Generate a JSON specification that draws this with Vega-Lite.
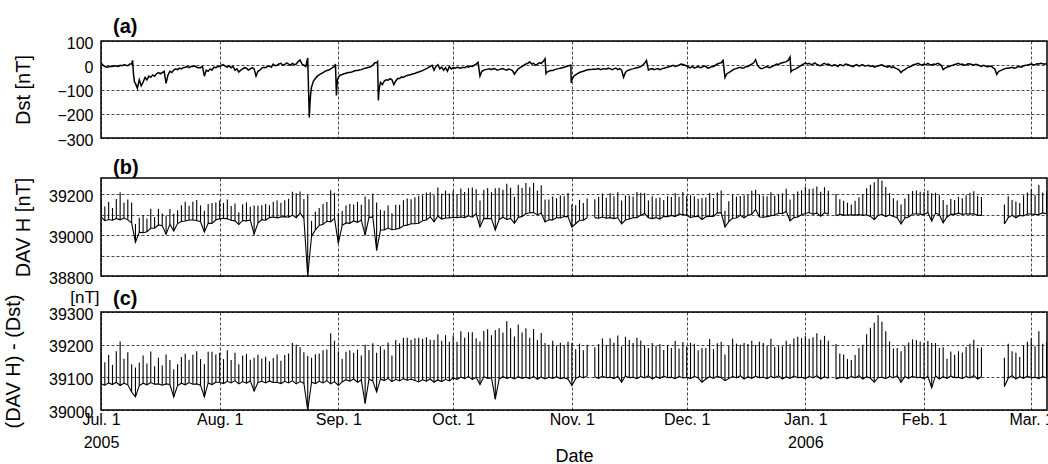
{
"$schema":"https://vega.github.io/schema/vega-lite/v6.json",
"background":"white",
"padding":{"left":2,"top":16,"right":2,"bottom":0},
"config":{
"font":"Liberation Sans",
"view":{"stroke":"black","strokeWidth":1.5},
"axis":{"labelFont":"Liberation Sans","labelFontSize":16,"labelColor":"black","titleFont":"Liberation Sans","titleFontSize":20,"titleFontWeight":"normal","titleColor":"black","gridColor":"black","gridDash":[3,2],"gridWidth":0.8,"gridOpacity":0.9,"domain":false,"ticks":false,"tickSize":0,"labelPadding":8},
"axisY":{"labelOffset":2},
"title":{"font":"Liberation Sans","fontSize":20,"fontWeight":"bold","anchor":"start","frame":"group","color":"black","dx":12}
},
"datasets":{
"dst":[
{"t":"2005070100","v":10},{"t":"2005070112","v":0},{"t":"2005070200","v":-5},{"t":"2005070212","v":-8},{"t":"2005070300","v":-6},{"t":"2005070312","v":-4},{"t":"2005070400","v":-5},{"t":"2005070412","v":-2},{"t":"2005070500","v":-3},{"t":"2005070512","v":-5},{"t":"2005070600","v":0},{"t":"2005070612","v":-2},{"t":"2005070700","v":2},{"t":"2005070712","v":0},{"t":"2005070800","v":-2},{"t":"2005070812","v":5},{"t":"2005070900","v":5},{"t":"2005070906","v":20},{"t":"2005070912","v":-40},{"t":"2005070918","v":-70},{"t":"2005071000","v":-75},{"t":"2005071012","v":-95},{"t":"2005071100","v":-60},{"t":"2005071112","v":-85},{"t":"2005071200","v":-70},{"t":"2005071212","v":-50},{"t":"2005071300","v":-60},{"t":"2005071312","v":-45},{"t":"2005071400","v":-50},{"t":"2005071412","v":-40},{"t":"2005071500","v":-45},{"t":"2005071512","v":-35},{"t":"2005071600","v":-30},{"t":"2005071612","v":-35},{"t":"2005071700","v":-30},{"t":"2005071712","v":-25},{"t":"2005071718","v":-50},{"t":"2005071800","v":-75},{"t":"2005071812","v":-40},{"t":"2005071900","v":-25},{"t":"2005071912","v":-30},{"t":"2005072000","v":-20},{"t":"2005072012","v":-15},{"t":"2005072100","v":-18},{"t":"2005072112","v":-12},{"t":"2005072200","v":-15},{"t":"2005072212","v":-10},{"t":"2005072300","v":-8},{"t":"2005072312","v":-5},{"t":"2005072400","v":-10},{"t":"2005072412","v":-5},{"t":"2005072500","v":-5},{"t":"2005072512","v":-3},{"t":"2005072600","v":-8},{"t":"2005072612","v":-10},{"t":"2005072700","v":-10},{"t":"2005072712","v":-5},{"t":"2005072800","v":-45},{"t":"2005072812","v":-20},{"t":"2005072900","v":-25},{"t":"2005072912","v":-15},{"t":"2005073000","v":-20},{"t":"2005073012","v":-8},{"t":"2005073100","v":-10},{"t":"2005073112","v":-5},
{"t":"2005080100","v":-5},{"t":"2005080112","v":0},{"t":"2005080200","v":2},{"t":"2005080212","v":-5},{"t":"2005080300","v":-8},{"t":"2005080312","v":-2},{"t":"2005080400","v":-10},{"t":"2005080412","v":-5},{"t":"2005080500","v":-20},{"t":"2005080512","v":-15},{"t":"2005080600","v":-28},{"t":"2005080612","v":-20},{"t":"2005080700","v":-15},{"t":"2005080712","v":-10},{"t":"2005080800","v":-12},{"t":"2005080812","v":-20},{"t":"2005080900","v":-15},{"t":"2005080912","v":-10},{"t":"2005081000","v":-15},{"t":"2005081012","v":-45},{"t":"2005081100","v":-25},{"t":"2005081112","v":-20},{"t":"2005081200","v":-12},{"t":"2005081212","v":-8},{"t":"2005081300","v":-10},{"t":"2005081312","v":-5},{"t":"2005081400","v":-3},{"t":"2005081412","v":-8},{"t":"2005081500","v":5},{"t":"2005081512","v":-2},{"t":"2005081600","v":0},{"t":"2005081612","v":5},{"t":"2005081700","v":8},{"t":"2005081712","v":0},{"t":"2005081800","v":3},{"t":"2005081812","v":10},{"t":"2005081900","v":5},{"t":"2005081912","v":0},{"t":"2005082000","v":8},{"t":"2005082012","v":2},{"t":"2005082100","v":5},{"t":"2005082112","v":15},{"t":"2005082200","v":22},{"t":"2005082212","v":5},{"t":"2005082300","v":0},{"t":"2005082312","v":-5},{"t":"2005082400","v":30},{"t":"2005082406","v":-120},{"t":"2005082410","v":-215},{"t":"2005082414","v":-160},{"t":"2005082418","v":-120},{"t":"2005082500","v":-90},{"t":"2005082512","v":-65},{"t":"2005082600","v":-55},{"t":"2005082612","v":-45},{"t":"2005082700","v":-40},{"t":"2005082712","v":-35},{"t":"2005082800","v":-30},{"t":"2005082812","v":-25},{"t":"2005082900","v":-22},{"t":"2005082912","v":-20},{"t":"2005083000","v":-15},{"t":"2005083012","v":-10},{"t":"2005083100","v":-5},{"t":"2005083106","v":5},{"t":"2005083112","v":-125},{"t":"2005083118","v":-60},
{"t":"2005090100","v":-50},{"t":"2005090112","v":-40},{"t":"2005090200","v":-38},{"t":"2005090212","v":-35},{"t":"2005090300","v":-33},{"t":"2005090312","v":-30},{"t":"2005090400","v":-30},{"t":"2005090412","v":-28},{"t":"2005090500","v":-25},{"t":"2005090512","v":-22},{"t":"2005090600","v":-22},{"t":"2005090612","v":-20},{"t":"2005090700","v":-18},{"t":"2005090712","v":-15},{"t":"2005090800","v":-12},{"t":"2005090812","v":-10},{"t":"2005090900","v":-8},{"t":"2005090912","v":-5},{"t":"2005091000","v":0},{"t":"2005091012","v":10},{"t":"2005091100","v":10},{"t":"2005091106","v":15},{"t":"2005091111","v":-145},{"t":"2005091114","v":-110},{"t":"2005091118","v":-90},{"t":"2005091200","v":-70},{"t":"2005091212","v":-80},{"t":"2005091300","v":-65},{"t":"2005091312","v":-60},{"t":"2005091400","v":-62},{"t":"2005091412","v":-55},{"t":"2005091500","v":-60},{"t":"2005091512","v":-80},{"t":"2005091600","v":-65},{"t":"2005091612","v":-55},{"t":"2005091700","v":-55},{"t":"2005091712","v":-48},{"t":"2005091800","v":-50},{"t":"2005091812","v":-45},{"t":"2005091900","v":-42},{"t":"2005091912","v":-40},{"t":"2005092000","v":-38},{"t":"2005092012","v":-35},{"t":"2005092100","v":-34},{"t":"2005092112","v":-30},{"t":"2005092200","v":-28},{"t":"2005092212","v":-25},{"t":"2005092300","v":-22},{"t":"2005092312","v":-18},{"t":"2005092400","v":-14},{"t":"2005092412","v":-10},{"t":"2005092500","v":-5},{"t":"2005092512","v":0},{"t":"2005092600","v":-20},{"t":"2005092612","v":-5},{"t":"2005092700","v":2},{"t":"2005092712","v":-15},{"t":"2005092800","v":-8},{"t":"2005092812","v":-20},{"t":"2005092900","v":-10},{"t":"2005092912","v":-25},{"t":"2005093000","v":-5},{"t":"2005093012","v":-15},
{"t":"2005100100","v":-10},{"t":"2005100112","v":-12},{"t":"2005100200","v":-8},{"t":"2005100212","v":-10},{"t":"2005100300","v":-12},{"t":"2005100312","v":-8},{"t":"2005100400","v":-10},{"t":"2005100412","v":-5},{"t":"2005100500","v":-8},{"t":"2005100512","v":-3},{"t":"2005100600","v":-5},{"t":"2005100612","v":0},{"t":"2005100700","v":5},{"t":"2005100712","v":12},{"t":"2005100800","v":-45},{"t":"2005100812","v":-25},{"t":"2005100900","v":-20},{"t":"2005100912","v":-18},{"t":"2005101000","v":-16},{"t":"2005101012","v":-15},{"t":"2005101100","v":-18},{"t":"2005101112","v":-14},{"t":"2005101200","v":-15},{"t":"2005101212","v":-20},{"t":"2005101300","v":-18},{"t":"2005101312","v":-15},{"t":"2005101400","v":-14},{"t":"2005101412","v":-18},{"t":"2005101500","v":-20},{"t":"2005101512","v":-16},{"t":"2005101600","v":-18},{"t":"2005101612","v":-22},{"t":"2005101700","v":-37},{"t":"2005101712","v":-25},{"t":"2005101800","v":-15},{"t":"2005101812","v":-10},{"t":"2005101900","v":-5},{"t":"2005101912","v":0},{"t":"2005102000","v":5},{"t":"2005102012","v":8},{"t":"2005102100","v":14},{"t":"2005102112","v":5},{"t":"2005102200","v":8},{"t":"2005102212","v":0},{"t":"2005102300","v":5},{"t":"2005102312","v":10},{"t":"2005102400","v":8},{"t":"2005102412","v":15},{"t":"2005102500","v":27},{"t":"2005102506","v":-34},{"t":"2005102512","v":-28},{"t":"2005102600","v":-25},{"t":"2005102612","v":-22},{"t":"2005102700","v":-22},{"t":"2005102712","v":-18},{"t":"2005102800","v":-16},{"t":"2005102812","v":-14},{"t":"2005102900","v":-12},{"t":"2005102912","v":-10},{"t":"2005103000","v":-8},{"t":"2005103012","v":-5},{"t":"2005103100","v":-3},{"t":"2005103112","v":0},{"t":"2005103118","v":0},{"t":"2005103120","v":-73},
{"t":"2005110100","v":-60},{"t":"2005110112","v":-45},{"t":"2005110200","v":-40},{"t":"2005110212","v":-35},{"t":"2005110300","v":-30},{"t":"2005110312","v":-27},{"t":"2005110400","v":-25},{"t":"2005110412","v":-22},{"t":"2005110500","v":-20},{"t":"2005110512","v":-18},{"t":"2005110600","v":-18},{"t":"2005110612","v":-16},{"t":"2005110700","v":-16},{"t":"2005110712","v":-15},{"t":"2005110800","v":-14},{"t":"2005110812","v":-18},{"t":"2005110900","v":-15},{"t":"2005110912","v":-14},{"t":"2005111000","v":-16},{"t":"2005111012","v":-12},{"t":"2005111100","v":-14},{"t":"2005111112","v":-18},{"t":"2005111200","v":-15},{"t":"2005111212","v":-12},{"t":"2005111300","v":-18},{"t":"2005111312","v":-14},{"t":"2005111400","v":-20},{"t":"2005111412","v":-50},{"t":"2005111500","v":-30},{"t":"2005111512","v":-22},{"t":"2005111600","v":-20},{"t":"2005111612","v":-16},{"t":"2005111700","v":-15},{"t":"2005111712","v":-12},{"t":"2005111800","v":-10},{"t":"2005111812","v":-8},{"t":"2005111900","v":-5},{"t":"2005111912","v":0},{"t":"2005112000","v":8},{"t":"2005112012","v":20},{"t":"2005112100","v":-20},{"t":"2005112112","v":-15},{"t":"2005112200","v":-14},{"t":"2005112212","v":-18},{"t":"2005112300","v":-16},{"t":"2005112312","v":-14},{"t":"2005112400","v":-18},{"t":"2005112412","v":-15},{"t":"2005112500","v":-12},{"t":"2005112512","v":-10},{"t":"2005112600","v":-8},{"t":"2005112612","v":-5},{"t":"2005112700","v":-3},{"t":"2005112712","v":0},{"t":"2005112800","v":-5},{"t":"2005112812","v":-2},{"t":"2005112900","v":0},{"t":"2005112912","v":5},{"t":"2005113000","v":3},{"t":"2005113012","v":0},
{"t":"2005120100","v":-3},{"t":"2005120112","v":-8},{"t":"2005120200","v":-10},{"t":"2005120212","v":-5},{"t":"2005120300","v":-12},{"t":"2005120312","v":-8},{"t":"2005120400","v":-5},{"t":"2005120412","v":-10},{"t":"2005120500","v":-8},{"t":"2005120512","v":-3},{"t":"2005120600","v":-5},{"t":"2005120612","v":-12},{"t":"2005120700","v":-10},{"t":"2005120712","v":-6},{"t":"2005120800","v":-5},{"t":"2005120812","v":0},{"t":"2005120900","v":5},{"t":"2005120912","v":8},{"t":"2005121000","v":10},{"t":"2005121012","v":20},{"t":"2005121100","v":-50},{"t":"2005121112","v":-35},{"t":"2005121200","v":-30},{"t":"2005121212","v":-25},{"t":"2005121300","v":-20},{"t":"2005121312","v":-15},{"t":"2005121400","v":-14},{"t":"2005121412","v":-10},{"t":"2005121500","v":-8},{"t":"2005121512","v":-12},{"t":"2005121600","v":-10},{"t":"2005121612","v":-6},{"t":"2005121700","v":-5},{"t":"2005121712","v":0},{"t":"2005121800","v":5},{"t":"2005121812","v":10},{"t":"2005121900","v":23},{"t":"2005121912","v":0},{"t":"2005122000","v":-10},{"t":"2005122012","v":-14},{"t":"2005122100","v":-12},{"t":"2005122112","v":-8},{"t":"2005122200","v":-5},{"t":"2005122212","v":-10},{"t":"2005122300","v":-8},{"t":"2005122312","v":-3},{"t":"2005122400","v":0},{"t":"2005122412","v":5},{"t":"2005122500","v":3},{"t":"2005122512","v":8},{"t":"2005122600","v":10},{"t":"2005122612","v":12},{"t":"2005122700","v":15},{"t":"2005122712","v":20},{"t":"2005122800","v":34},{"t":"2005122806","v":-27},{"t":"2005122812","v":-22},{"t":"2005122900","v":-18},{"t":"2005122912","v":-15},{"t":"2005123000","v":-10},{"t":"2005123012","v":-5},{"t":"2005123100","v":0},{"t":"2005123112","v":5},
{"t":"2006010100","v":10},{"t":"2006010112","v":5},{"t":"2006010200","v":8},{"t":"2006010212","v":2},{"t":"2006010300","v":5},{"t":"2006010312","v":10},{"t":"2006010400","v":3},{"t":"2006010412","v":0},{"t":"2006010500","v":-2},{"t":"2006010512","v":5},{"t":"2006010600","v":8},{"t":"2006010612","v":3},{"t":"2006010700","v":5},{"t":"2006010712","v":0},{"t":"2006010800","v":-3},{"t":"2006010812","v":2},{"t":"2006010900","v":0},{"t":"2006010912","v":-5},{"t":"2006011000","v":3},{"t":"2006011012","v":0},{"t":"2006011100","v":-2},{"t":"2006011112","v":5},{"t":"2006011200","v":3},{"t":"2006011212","v":0},{"t":"2006011300","v":-3},{"t":"2006011312","v":-6},{"t":"2006011400","v":0},{"t":"2006011412","v":3},{"t":"2006011500","v":-4},{"t":"2006011512","v":0},{"t":"2006011600","v":2},{"t":"2006011612","v":-3},{"t":"2006011700","v":-2},{"t":"2006011712","v":0},{"t":"2006011800","v":-5},{"t":"2006011812","v":-2},{"t":"2006011900","v":-8},{"t":"2006011912","v":-4},{"t":"2006012000","v":-3},{"t":"2006012012","v":0},{"t":"2006012100","v":2},{"t":"2006012112","v":-3},{"t":"2006012200","v":-5},{"t":"2006012212","v":-8},{"t":"2006012300","v":-3},{"t":"2006012312","v":-10},{"t":"2006012400","v":-7},{"t":"2006012412","v":-12},{"t":"2006012500","v":-15},{"t":"2006012512","v":-20},{"t":"2006012600","v":-30},{"t":"2006012612","v":-22},{"t":"2006012700","v":-18},{"t":"2006012712","v":-12},{"t":"2006012800","v":-8},{"t":"2006012812","v":-5},{"t":"2006012900","v":0},{"t":"2006012912","v":3},{"t":"2006013000","v":5},{"t":"2006013012","v":8},{"t":"2006013100","v":3},{"t":"2006013112","v":0},
{"t":"2006020100","v":5},{"t":"2006020112","v":2},{"t":"2006020200","v":8},{"t":"2006020212","v":3},{"t":"2006020300","v":0},{"t":"2006020312","v":5},{"t":"2006020400","v":3},{"t":"2006020412","v":8},{"t":"2006020500","v":5},{"t":"2006020512","v":0},{"t":"2006020600","v":-18},{"t":"2006020612","v":-12},{"t":"2006020700","v":-8},{"t":"2006020712","v":-5},{"t":"2006020800","v":-2},{"t":"2006020812","v":0},{"t":"2006020900","v":3},{"t":"2006020912","v":5},{"t":"2006021000","v":8},{"t":"2006021012","v":3},{"t":"2006021100","v":5},{"t":"2006021112","v":0},{"t":"2006021200","v":2},{"t":"2006021212","v":6},{"t":"2006021300","v":5},{"t":"2006021312","v":3},{"t":"2006021400","v":0},{"t":"2006021412","v":4},{"t":"2006021500","v":2},{"t":"2006021512","v":-2},{"t":"2006021600","v":-5},{"t":"2006021612","v":0},{"t":"2006021700","v":-3},{"t":"2006021712","v":-6},{"t":"2006021800","v":-5},{"t":"2006021812","v":-3},{"t":"2006021900","v":-10},{"t":"2006021912","v":-15},{"t":"2006022000","v":-38},{"t":"2006022012","v":-25},{"t":"2006022100","v":-22},{"t":"2006022112","v":-18},{"t":"2006022200","v":-15},{"t":"2006022212","v":-12},{"t":"2006022300","v":-12},{"t":"2006022312","v":-10},{"t":"2006022400","v":-8},{"t":"2006022412","v":-12},{"t":"2006022500","v":-10},{"t":"2006022512","v":-6},{"t":"2006022600","v":-5},{"t":"2006022612","v":-8},{"t":"2006022700","v":-3},{"t":"2006022712","v":0},{"t":"2006022800","v":0},{"t":"2006022812","v":3},{"t":"2006030100","v":5},{"t":"2006030112","v":3},{"t":"2006030200","v":2},{"t":"2006030212","v":6},{"t":"2006030300","v":5},{"t":"2006030312","v":8},{"t":"2006030400","v":6},{"t":"2006030412","v":4},{"t":"2006030500","v":7},{"t":"2006030506","v":6}
],
"dav":[
{"t":"2005/07/01","s":1,"b":39090,"bp":39180,"c":39080,"cp":39170},{"t":"2005/07/02","s":1,"b":39071,"bp":39141,"c":39076,"cp":39146},{"t":"2005/07/03","s":1,"b":39077,"bp":39162,"c":39083,"cp":39168},{"t":"2005/07/04","s":1,"b":39073,"bp":39133,"c":39078,"cp":39138},{"t":"2005/07/05","s":1,"b":39082,"bp":39177,"c":39085,"cp":39180},{"t":"2005/07/06","s":1,"b":39075,"bp":39210,"c":39075,"cp":39210},{"t":"2005/07/07","s":1,"b":39084,"bp":39159,"c":39082,"cp":39157},{"t":"2005/07/08","s":1,"b":39075,"bp":39175,"c":39077,"cp":39177},{"t":"2005/07/09","s":1,"b":39060,"bp":39160,"c":39055,"cp":39140},{"t":"2005/07/10","s":1,"b":38965,"bp":39055,"c":39040,"cp":39130},{"t":"2005/07/11","s":1,"b":39015,"bp":39085,"c":39075,"cp":39145},{"t":"2005/07/12","s":1,"b":39012,"bp":39097,"c":39082,"cp":39167},{"t":"2005/07/13","s":1,"b":39017,"bp":39082,"c":39077,"cp":39142},{"t":"2005/07/14","s":1,"b":39034,"bp":39129,"c":39084,"cp":39179},{"t":"2005/07/15","s":1,"b":39034,"bp":39089,"c":39079,"cp":39134},{"t":"2005/07/16","s":1,"b":39050,"bp":39130,"c":39080,"cp":39160},{"t":"2005/07/17","s":1,"b":39046,"bp":39106,"c":39076,"cp":39136},{"t":"2005/07/18","s":1,"b":39005,"bp":39095,"c":39080,"cp":39170},{"t":"2005/07/19","s":1,"b":39053,"bp":39128,"c":39078,"cp":39153},{"t":"2005/07/20","s":1,"b":39020,"bp":39105,"c":39040,"cp":39125},{"t":"2005/07/21","s":1,"b":39057,"bp":39122,"c":39075,"cp":39140},{"t":"2005/07/22","s":1,"b":39067,"bp":39147,"c":39082,"cp":39162},{"t":"2005/07/23","s":1,"b":39069,"bp":39164,"c":39077,"cp":39172},{"t":"2005/07/24","s":1,"b":39074,"bp":39144,"c":39084,"cp":39154},{"t":"2005/07/25","s":1,"b":39074,"bp":39164,"c":39079,"cp":39169},{"t":"2005/07/26","s":1,"b":39072,"bp":39172,"c":39080,"cp":39180},{"t":"2005/07/27","s":1,"b":39066,"bp":39146,"c":39076,"cp":39156},{"t":"2005/07/28","s":1,"b":39015,"bp":39120,"c":39040,"cp":39140},{"t":"2005/07/29","s":1,"b":39058,"bp":39153,"c":39083,"cp":39178},{"t":"2005/07/30","s":1,"b":39058,"bp":39158,"c":39078,"cp":39178},{"t":"2005/07/31","s":1,"b":39075,"bp":39160,"c":39085,"cp":39170},
{"t":"2005/08/01","s":1,"b":39080,"bp":39170,"c":39085,"cp":39175},{"t":"2005/08/02","s":1,"b":39083,"bp":39158,"c":39081,"cp":39156},{"t":"2005/08/03","s":1,"b":39080,"bp":39175,"c":39088,"cp":39183},{"t":"2005/08/04","s":1,"b":39073,"bp":39143,"c":39083,"cp":39153},{"t":"2005/08/05","s":1,"b":39070,"bp":39155,"c":39090,"cp":39175},{"t":"2005/08/06","s":1,"b":39052,"bp":39112,"c":39080,"cp":39140},{"t":"2005/08/07","s":1,"b":39072,"bp":39152,"c":39087,"cp":39167},{"t":"2005/08/08","s":1,"b":39070,"bp":39160,"c":39082,"cp":39172},{"t":"2005/08/09","s":1,"b":39074,"bp":39139,"c":39089,"cp":39154},{"t":"2005/08/10","s":1,"b":39005,"bp":39145,"c":39058,"cp":39160},{"t":"2005/08/11","s":1,"b":39059,"bp":39144,"c":39084,"cp":39169},{"t":"2005/08/12","s":1,"b":39076,"bp":39146,"c":39088,"cp":39158},{"t":"2005/08/13","s":1,"b":39073,"bp":39153,"c":39083,"cp":39163},{"t":"2005/08/14","s":1,"b":39086,"bp":39146,"c":39089,"cp":39149},{"t":"2005/08/15","s":1,"b":39089,"bp":39164,"c":39084,"cp":39159},{"t":"2005/08/16","s":1,"b":39085,"bp":39170,"c":39085,"cp":39170},{"t":"2005/08/17","s":1,"b":39089,"bp":39159,"c":39081,"cp":39151},{"t":"2005/08/18","s":1,"b":39091,"bp":39171,"c":39088,"cp":39168},{"t":"2005/08/19","s":1,"b":39088,"bp":39178,"c":39083,"cp":39173},{"t":"2005/08/20","s":1,"b":39098,"bp":39213,"c":39090,"cp":39205},{"t":"2005/08/21","s":1,"b":39085,"bp":39205,"c":39080,"cp":39200},{"t":"2005/08/22","s":1,"b":39109,"bp":39214,"c":39087,"cp":39192},{"t":"2005/08/23","s":1,"b":39082,"bp":39177,"c":39082,"cp":39177},{"t":"2005/08/24","s":1,"b":38800,"bp":39195,"c":39000,"cp":39165},{"t":"2005/08/25","s":1,"b":38995,"bp":39070,"c":39085,"cp":39160},{"t":"2005/08/26","s":1,"b":39026,"bp":39116,"c":39081,"cp":39171},{"t":"2005/08/27","s":1,"b":39048,"bp":39133,"c":39088,"cp":39173},{"t":"2005/08/28","s":1,"b":39053,"bp":39153,"c":39083,"cp":39183},{"t":"2005/08/29","s":1,"b":39068,"bp":39163,"c":39090,"cp":39185},{"t":"2005/08/30","s":1,"b":39065,"bp":39220,"c":39080,"cp":39235},{"t":"2005/08/31","s":1,"b":39082,"bp":39207,"c":39087,"cp":39212},
{"t":"2005/09/01","s":1,"b":38960,"bp":39110,"c":39075,"cp":39180},{"t":"2005/09/02","s":1,"b":39048,"bp":39118,"c":39086,"cp":39156},{"t":"2005/09/03","s":1,"b":39060,"bp":39145,"c":39093,"cp":39178},{"t":"2005/09/04","s":1,"b":39058,"bp":39153,"c":39088,"cp":39183},{"t":"2005/09/05","s":1,"b":39070,"bp":39150,"c":39095,"cp":39175},{"t":"2005/09/06","s":1,"b":39063,"bp":39163,"c":39085,"cp":39185},{"t":"2005/09/07","s":1,"b":39074,"bp":39149,"c":39092,"cp":39167},{"t":"2005/09/08","s":1,"b":39000,"bp":39190,"c":39020,"cp":39200},{"t":"2005/09/09","s":1,"b":39086,"bp":39176,"c":39094,"cp":39184},{"t":"2005/09/10","s":1,"b":39089,"bp":39204,"c":39089,"cp":39204},{"t":"2005/09/11","s":1,"b":38925,"bp":39160,"c":39055,"cp":39175},{"t":"2005/09/12","s":1,"b":39025,"bp":39125,"c":39095,"cp":39195},{"t":"2005/09/13","s":1,"b":39025,"bp":39120,"c":39090,"cp":39185},{"t":"2005/09/14","s":1,"b":39035,"bp":39145,"c":39097,"cp":39207},{"t":"2005/09/15","s":1,"b":39027,"bp":39107,"c":39087,"cp":39167},{"t":"2005/09/16","s":1,"b":39029,"bp":39149,"c":39094,"cp":39214},{"t":"2005/09/17","s":1,"b":39034,"bp":39149,"c":39089,"cp":39204},{"t":"2005/09/18","s":1,"b":39046,"bp":39171,"c":39096,"cp":39221},{"t":"2005/09/19","s":1,"b":39049,"bp":39179,"c":39091,"cp":39221},{"t":"2005/09/20","s":1,"b":39056,"bp":39176,"c":39094,"cp":39214},{"t":"2005/09/21","s":1,"b":39056,"bp":39186,"c":39090,"cp":39220},{"t":"2005/09/22","s":1,"b":39058,"bp":39193,"c":39086,"cp":39221},{"t":"2005/09/23","s":1,"b":39071,"bp":39196,"c":39093,"cp":39218},{"t":"2005/09/24","s":1,"b":39074,"bp":39209,"c":39088,"cp":39223},{"t":"2005/09/25","s":1,"b":39090,"bp":39210,"c":39095,"cp":39215},{"t":"2005/09/26","s":1,"b":39065,"bp":39195,"c":39085,"cp":39215},{"t":"2005/09/27","s":1,"b":39094,"bp":39234,"c":39092,"cp":39232},{"t":"2005/09/28","s":1,"b":39079,"bp":39204,"c":39087,"cp":39212},{"t":"2005/09/29","s":1,"b":39084,"bp":39219,"c":39094,"cp":39229},{"t":"2005/09/30","s":1,"b":39084,"bp":39204,"c":39089,"cp":39209},
{"t":"2005/10/01","s":1,"b":39088,"bp":39218,"c":39098,"cp":39228},{"t":"2005/10/02","s":1,"b":39086,"bp":39201,"c":39094,"cp":39209},{"t":"2005/10/03","s":1,"b":39089,"bp":39229,"c":39101,"cp":39241},{"t":"2005/10/04","s":1,"b":39086,"bp":39211,"c":39096,"cp":39221},{"t":"2005/10/05","s":1,"b":39095,"bp":39230,"c":39103,"cp":39238},{"t":"2005/10/06","s":1,"b":39088,"bp":39233,"c":39093,"cp":39238},{"t":"2005/10/07","s":1,"b":39105,"bp":39225,"c":39100,"cp":39220},{"t":"2005/10/08","s":1,"b":39040,"bp":39170,"c":39078,"cp":39210},{"t":"2005/10/09","s":1,"b":39082,"bp":39222,"c":39102,"cp":39242},{"t":"2005/10/10","s":1,"b":39081,"bp":39231,"c":39097,"cp":39247},{"t":"2005/10/11","s":1,"b":39081,"bp":39211,"c":39099,"cp":39229},{"t":"2005/10/12","s":1,"b":39025,"bp":39230,"c":39033,"cp":39245},{"t":"2005/10/13","s":1,"b":39077,"bp":39232,"c":39095,"cp":39250},{"t":"2005/10/14","s":1,"b":39088,"bp":39223,"c":39102,"cp":39237},{"t":"2005/10/15","s":1,"b":39077,"bp":39252,"c":39097,"cp":39272},{"t":"2005/10/16","s":1,"b":39082,"bp":39232,"c":39100,"cp":39250},{"t":"2005/10/17","s":1,"b":39058,"bp":39188,"c":39095,"cp":39225},{"t":"2005/10/18","s":1,"b":39087,"bp":39247,"c":39102,"cp":39262},{"t":"2005/10/19","s":1,"b":39092,"bp":39232,"c":39097,"cp":39237},{"t":"2005/10/20","s":1,"b":39105,"bp":39255,"c":39100,"cp":39250},{"t":"2005/10/21","s":1,"b":39110,"bp":39235,"c":39096,"cp":39221},{"t":"2005/10/22","s":1,"b":39111,"bp":39256,"c":39103,"cp":39248},{"t":"2005/10/23","s":1,"b":39099,"bp":39219,"c":39094,"cp":39214},{"t":"2005/10/24","s":1,"b":39109,"bp":39244,"c":39101,"cp":39236},{"t":"2005/10/25","s":1,"b":39065,"bp":39175,"c":39095,"cp":39205},{"t":"2005/10/26","s":1,"b":39075,"bp":39175,"c":39100,"cp":39200},{"t":"2005/10/27","s":1,"b":39075,"bp":39190,"c":39097,"cp":39212},{"t":"2005/10/28","s":1,"b":39086,"bp":39181,"c":39102,"cp":39197},{"t":"2005/10/29","s":1,"b":39084,"bp":39194,"c":39096,"cp":39206},{"t":"2005/10/30","s":1,"b":39091,"bp":39191,"c":39099,"cp":39199},{"t":"2005/10/31","s":1,"b":39091,"bp":39206,"c":39094,"cp":39209},
{"t":"2005/11/01","s":1,"b":39040,"bp":39150,"c":39075,"cp":39205},{"t":"2005/11/02","s":1,"b":39056,"bp":39146,"c":39096,"cp":39186},{"t":"2005/11/03","s":1,"b":39073,"bp":39173,"c":39103,"cp":39203},{"t":"2005/11/04","s":1,"b":39073,"bp":39158,"c":39098,"cp":39183},{"t":"2005/11/05","s":1,"b":39085,"bp":39180,"c":39105,"cp":39200},{"t":"2005/11/07","s":2,"b":39086,"bp":39176,"c":39102,"cp":39192},{"t":"2005/11/08","s":2,"b":39083,"bp":39188,"c":39097,"cp":39202},{"t":"2005/11/09","s":2,"b":39089,"bp":39204,"c":39104,"cp":39219},{"t":"2005/11/10","s":2,"b":39083,"bp":39183,"c":39099,"cp":39199},{"t":"2005/11/11","s":2,"b":39086,"bp":39206,"c":39100,"cp":39220},{"t":"2005/11/12","s":2,"b":39081,"bp":39191,"c":39096,"cp":39206},{"t":"2005/11/13","s":2,"b":39085,"bp":39210,"c":39103,"cp":39228},{"t":"2005/11/14","s":2,"b":39055,"bp":39170,"c":39085,"cp":39195},{"t":"2005/11/15","s":2,"b":39074,"bp":39194,"c":39104,"cp":39224},{"t":"2005/11/16","s":2,"b":39079,"bp":39194,"c":39099,"cp":39214},{"t":"2005/11/17","s":2,"b":39085,"bp":39190,"c":39100,"cp":39205},{"t":"2005/11/18","s":2,"b":39086,"bp":39211,"c":39096,"cp":39221},{"t":"2005/11/19","s":2,"b":39098,"bp":39208,"c":39103,"cp":39213},{"t":"2005/11/20","s":2,"b":39106,"bp":39206,"c":39098,"cp":39198},{"t":"2005/11/21","s":2,"b":39085,"bp":39170,"c":39105,"cp":39190},{"t":"2005/11/22","s":2,"b":39081,"bp":39191,"c":39095,"cp":39205},{"t":"2005/11/23","s":2,"b":39086,"bp":39181,"c":39102,"cp":39197},{"t":"2005/11/24","s":2,"b":39079,"bp":39184,"c":39097,"cp":39202},{"t":"2005/11/25","s":2,"b":39092,"bp":39172,"c":39104,"cp":39184},{"t":"2005/11/26","s":2,"b":39091,"bp":39191,"c":39099,"cp":39199},{"t":"2005/11/27","s":2,"b":39097,"bp":39187,"c":39100,"cp":39190},{"t":"2005/11/28","s":2,"b":39091,"bp":39206,"c":39096,"cp":39211},{"t":"2005/11/29","s":2,"b":39103,"bp":39188,"c":39103,"cp":39188},{"t":"2005/11/30","s":2,"b":39101,"bp":39211,"c":39098,"cp":39208},
{"t":"2005/12/01","s":2,"b":39097,"bp":39192,"c":39100,"cp":39195},{"t":"2005/12/02","s":2,"b":39086,"bp":39196,"c":39096,"cp":39206},{"t":"2005/12/03","s":2,"b":39091,"bp":39191,"c":39103,"cp":39203},{"t":"2005/12/04","s":2,"b":39093,"bp":39178,"c":39098,"cp":39183},{"t":"2005/12/05","s":2,"b":39077,"bp":39182,"c":39085,"cp":39190},{"t":"2005/12/06","s":2,"b":39090,"bp":39185,"c":39095,"cp":39190},{"t":"2005/12/07","s":2,"b":39092,"bp":39207,"c":39102,"cp":39217},{"t":"2005/12/08","s":2,"b":39092,"bp":39182,"c":39097,"cp":39187},{"t":"2005/12/09","s":2,"b":39109,"bp":39209,"c":39104,"cp":39204},{"t":"2005/12/10","s":2,"b":39109,"bp":39219,"c":39099,"cp":39209},{"t":"2005/12/11","s":2,"b":39040,"bp":39120,"c":39090,"cp":39170},{"t":"2005/12/12","s":2,"b":39066,"bp":39166,"c":39096,"cp":39196},{"t":"2005/12/13","s":2,"b":39083,"bp":39198,"c":39103,"cp":39218},{"t":"2005/12/14","s":2,"b":39084,"bp":39189,"c":39098,"cp":39203},{"t":"2005/12/15","s":2,"b":39097,"bp":39192,"c":39105,"cp":39200},{"t":"2005/12/16","s":2,"b":39085,"bp":39195,"c":39095,"cp":39205},{"t":"2005/12/17","s":2,"b":39097,"bp":39197,"c":39102,"cp":39202},{"t":"2005/12/18","s":2,"b":39102,"bp":39217,"c":39097,"cp":39212},{"t":"2005/12/19","s":2,"b":39127,"bp":39222,"c":39104,"cp":39199},{"t":"2005/12/20","s":2,"b":39089,"bp":39199,"c":39099,"cp":39209},{"t":"2005/12/21","s":2,"b":39088,"bp":39193,"c":39100,"cp":39205},{"t":"2005/12/22","s":2,"b":39091,"bp":39191,"c":39096,"cp":39196},{"t":"2005/12/23","s":2,"b":39095,"bp":39210,"c":39103,"cp":39218},{"t":"2005/12/24","s":2,"b":39098,"bp":39193,"c":39098,"cp":39193},{"t":"2005/12/25","s":2,"b":39108,"bp":39198,"c":39105,"cp":39195},{"t":"2005/12/26","s":2,"b":39105,"bp":39205,"c":39095,"cp":39195},{"t":"2005/12/27","s":2,"b":39117,"bp":39227,"c":39102,"cp":39212},{"t":"2005/12/28","s":2,"b":39070,"bp":39175,"c":39097,"cp":39202},{"t":"2005/12/29","s":2,"b":39086,"bp":39201,"c":39104,"cp":39219},{"t":"2005/12/30","s":2,"b":39089,"bp":39214,"c":39099,"cp":39224},{"t":"2005/12/31","s":2,"b":39100,"bp":39220,"c":39100,"cp":39220},
{"t":"2006/01/01","s":2,"b":39106,"bp":39236,"c":39096,"cp":39226},{"t":"2006/01/02","s":2,"b":39111,"bp":39226,"c":39103,"cp":39218},{"t":"2006/01/03","s":2,"b":39103,"bp":39228,"c":39098,"cp":39223},{"t":"2006/01/04","s":2,"b":39108,"bp":39238,"c":39105,"cp":39235},{"t":"2006/01/05","s":2,"b":39093,"bp":39213,"c":39095,"cp":39215},{"t":"2006/01/06","s":2,"b":39110,"bp":39235,"c":39102,"cp":39227},{"t":"2006/01/07","s":2,"b":39102,"bp":39217,"c":39097,"cp":39212},{"t":"2006/01/09","s":3,"b":39095,"bp":39202,"c":39095,"cp":39202},{"t":"2006/01/10","s":3,"b":39102,"bp":39176,"c":39099,"cp":39173},{"t":"2006/01/11","s":3,"b":39098,"bp":39168,"c":39100,"cp":39170},{"t":"2006/01/12","s":3,"b":39099,"bp":39159,"c":39096,"cp":39156},{"t":"2006/01/13","s":3,"b":39100,"bp":39150,"c":39103,"cp":39153},{"t":"2006/01/14","s":3,"b":39098,"bp":39168,"c":39098,"cp":39168},{"t":"2006/01/15","s":3,"b":39101,"bp":39186,"c":39105,"cp":39190},{"t":"2006/01/16","s":3,"b":39097,"bp":39202,"c":39095,"cp":39200},{"t":"2006/01/17","s":3,"b":39100,"bp":39230,"c":39102,"cp":39232},{"t":"2006/01/18","s":3,"b":39092,"bp":39247,"c":39097,"cp":39252},{"t":"2006/01/19","s":3,"b":39077,"bp":39259,"c":39085,"cp":39267},{"t":"2006/01/20","s":3,"b":39096,"bp":39278,"c":39099,"cp":39290},{"t":"2006/01/21","s":3,"b":39102,"bp":39268,"c":39100,"cp":39270},{"t":"2006/01/22","s":3,"b":39091,"bp":39236,"c":39096,"cp":39241},{"t":"2006/01/23","s":3,"b":39100,"bp":39207,"c":39103,"cp":39210},{"t":"2006/01/24","s":3,"b":39091,"bp":39181,"c":39098,"cp":39188},{"t":"2006/01/25","s":3,"b":39085,"bp":39170,"c":39105,"cp":39190},{"t":"2006/01/26","s":3,"b":39055,"bp":39150,"c":39085,"cp":39180},{"t":"2006/01/27","s":3,"b":39084,"bp":39179,"c":39102,"cp":39197},{"t":"2006/01/28","s":3,"b":39089,"bp":39199,"c":39097,"cp":39207},{"t":"2006/01/29","s":3,"b":39104,"bp":39216,"c":39104,"cp":39216},{"t":"2006/01/30","s":3,"b":39104,"bp":39219,"c":39099,"cp":39214},{"t":"2006/01/31","s":3,"b":39103,"bp":39213,"c":39100,"cp":39210},
{"t":"2006/02/01","s":3,"b":39101,"bp":39211,"c":39096,"cp":39206},{"t":"2006/02/02","s":3,"b":39111,"bp":39219,"c":39103,"cp":39211},{"t":"2006/02/03","s":3,"b":39068,"bp":39205,"c":39068,"cp":39205},{"t":"2006/02/04","s":3,"b":39108,"bp":39208,"c":39105,"cp":39205},{"t":"2006/02/05","s":3,"b":39100,"bp":39195,"c":39095,"cp":39190},{"t":"2006/02/06","s":3,"b":39060,"bp":39172,"c":39102,"cp":39192},{"t":"2006/02/07","s":3,"b":39089,"bp":39149,"c":39097,"cp":39157},{"t":"2006/02/08","s":3,"b":39102,"bp":39177,"c":39104,"cp":39179},{"t":"2006/02/09","s":3,"b":39102,"bp":39172,"c":39099,"cp":39169},{"t":"2006/02/10","s":3,"b":39108,"bp":39188,"c":39100,"cp":39180},{"t":"2006/02/11","s":3,"b":39101,"bp":39181,"c":39096,"cp":39176},{"t":"2006/02/12","s":3,"b":39105,"bp":39195,"c":39103,"cp":39193},{"t":"2006/02/13","s":3,"b":39103,"bp":39208,"c":39098,"cp":39203},{"t":"2006/02/14","s":3,"b":39105,"bp":39215,"c":39105,"cp":39215},{"t":"2006/02/15","s":3,"b":39097,"bp":39192,"c":39095,"cp":39190},{"t":"2006/02/16","s":3,"b":39097,"bp":39187,"c":39102,"cp":39192},{"t":"2006/02/22","s":4,"b":39055,"bp":39150,"c":39072,"cp":39160},{"t":"2006/02/23","s":4,"b":39086,"bp":39191,"c":39098,"cp":39203},{"t":"2006/02/24","s":4,"b":39097,"bp":39172,"c":39105,"cp":39180},{"t":"2006/02/25","s":4,"b":39085,"bp":39165,"c":39095,"cp":39175},{"t":"2006/02/26","s":4,"b":39097,"bp":39157,"c":39102,"cp":39162},{"t":"2006/02/27","s":4,"b":39094,"bp":39194,"c":39097,"cp":39197},{"t":"2006/02/28","s":4,"b":39104,"bp":39209,"c":39104,"cp":39209},{"t":"2006/03/01","s":4,"b":39104,"bp":39224,"c":39099,"cp":39219},{"t":"2006/03/02","s":4,"b":39102,"bp":39197,"c":39100,"cp":39195},{"t":"2006/03/03","s":4,"b":39101,"bp":39246,"c":39096,"cp":39241},{"t":"2006/03/04","s":4,"b":39109,"bp":39209,"c":39103,"cp":39203},{"t":"2006/03/05","s":4,"b":39105,"bp":39215,"c":39098,"cp":39208}
]
},
"spacing":0,
"vconcat":[
{
"title":{"text":"(a)","offset":-2},
"width":946,"height":97,
"data":{"name":"dst","format":{"parse":{"t":"date:'%Y%m%d%H'"}}},
"mark":{"type":"line","color":"black","strokeWidth":1.5,"clip":true},
"encoding":{
"x":{"field":"t","type":"temporal","scale":{"domain":[{"year":2005,"month":7,"date":1},{"year":2006,"month":3,"date":5,"hours":3}]},
"axis":{"title":null,"labels":false,"grid":true,"minExtent":18,"maxExtent":18,"values":[{"year":2005,"month":7,"date":1},{"year":2005,"month":8,"date":1},{"year":2005,"month":9,"date":1},{"year":2005,"month":10,"date":1},{"year":2005,"month":11,"date":1},{"year":2005,"month":12,"date":1},{"year":2006,"month":1,"date":1},{"year":2006,"month":2,"date":1},{"year":2006,"month":3,"date":1}]}},
"y":{"field":"v","type":"quantitative","scale":{"domain":[-300,100],"nice":false},
"axis":{"title":"Dst [nT]","values":[-300,-200,-100,0,100],"tickCount":10,"grid":true,"titleX":-68,"titleY":48.5,"titleAngle":270,"titleBaseline":"bottom","titleAlign":"center"}}
}
},
{
"title":{"text":"(b)","offset":-1},
"width":946,"height":98,
"data":{"name":"dav","format":{"parse":{"t":"date"}}},
"layer":[
{"mark":{"type":"line","color":"black","strokeWidth":1.1,"clip":true},
"encoding":{
"x":{"field":"t","type":"temporal","scale":{"domain":[{"year":2005,"month":7,"date":1},{"year":2006,"month":3,"date":5,"hours":3}]},
"axis":{"title":null,"labels":false,"grid":true,"minExtent":0,"maxExtent":0,"values":[{"year":2005,"month":7,"date":1},{"year":2005,"month":8,"date":1},{"year":2005,"month":9,"date":1},{"year":2005,"month":10,"date":1},{"year":2005,"month":11,"date":1},{"year":2005,"month":12,"date":1},{"year":2006,"month":1,"date":1},{"year":2006,"month":2,"date":1},{"year":2006,"month":3,"date":1}]}},
"y":{"field":"b","type":"quantitative","scale":{"domain":[38800,39280],"nice":false},
"axis":{"title":"DAV H [nT]","format":"d","values":[38800,38900,39000,39100,39200],"tickCount":10,"labelExpr":"datum.value % 200 == 0 ? datum.label : ''","grid":true,"titleX":-68,"titleY":49,"titleAngle":270,"titleBaseline":"bottom","titleAlign":"center"}},
"detail":{"field":"s","type":"nominal"}
}},
{"mark":{"type":"rule","color":"black","strokeWidth":1.1,"clip":true},
"encoding":{"x":{"field":"t","type":"temporal"},"y":{"field":"b","type":"quantitative"},"y2":{"field":"bp"}}}
]
},
{
"title":{"text":"(c)","offset":-21},
"width":946,"height":98,
"data":{"name":"dav","format":{"parse":{"t":"date"}}},
"resolve":{"axis":{"x":"independent"}},
"layer":[
{"mark":{"type":"line","color":"black","strokeWidth":1.1,"clip":true},
"encoding":{
"x":{"field":"t","type":"temporal","scale":{"domain":[{"year":2005,"month":7,"date":1},{"year":2006,"month":3,"date":5,"hours":3}]},
"axis":{"title":"Date","orient":"bottom","grid":true,"labelFlush":false,"labelOverlap":false,"labelPadding":1,"labelDx":-6,"labelLineHeight":23,"titleFontSize":18,"titleY":51,"titleBaseline":"alphabetic",
"labelExpr":"month(datum.value)==6 ? ['Jul. 1','2005'] : (month(datum.value)==0 ? ['Jan. 1','2006'] : timeFormat(datum.value,'%b') + '. 1')",
"values":[{"year":2005,"month":7,"date":1},{"year":2005,"month":8,"date":1},{"year":2005,"month":9,"date":1},{"year":2005,"month":10,"date":1},{"year":2005,"month":11,"date":1},{"year":2005,"month":12,"date":1},{"year":2006,"month":1,"date":1},{"year":2006,"month":2,"date":1},{"year":2006,"month":3,"date":1}]}},
"y":{"field":"c","type":"quantitative","scale":{"domain":[39000,39300],"nice":false},
"axis":{"title":"(DAV H) - (Dst)","format":"d","values":[39000,39100,39200,39300],"tickCount":10,"grid":true,"titleX":-78,"titleY":49,"titleAngle":270,"titleBaseline":"bottom","titleAlign":"center"}},
"detail":{"field":"s","type":"nominal"}
}},
{"mark":{"type":"rule","color":"black","strokeWidth":1.1,"clip":true},
"encoding":{"x":{"field":"t","type":"temporal","axis":{"orient":"top","title":"[nT]","labels":false,"grid":false,"minExtent":0,"maxExtent":0,"titleX":-2,"titleY":-10,"titleAlign":"right","titleBaseline":"alphabetic","titleFontSize":17}},"y":{"field":"c","type":"quantitative"},"y2":{"field":"cp"}}}
]
}
]
}
